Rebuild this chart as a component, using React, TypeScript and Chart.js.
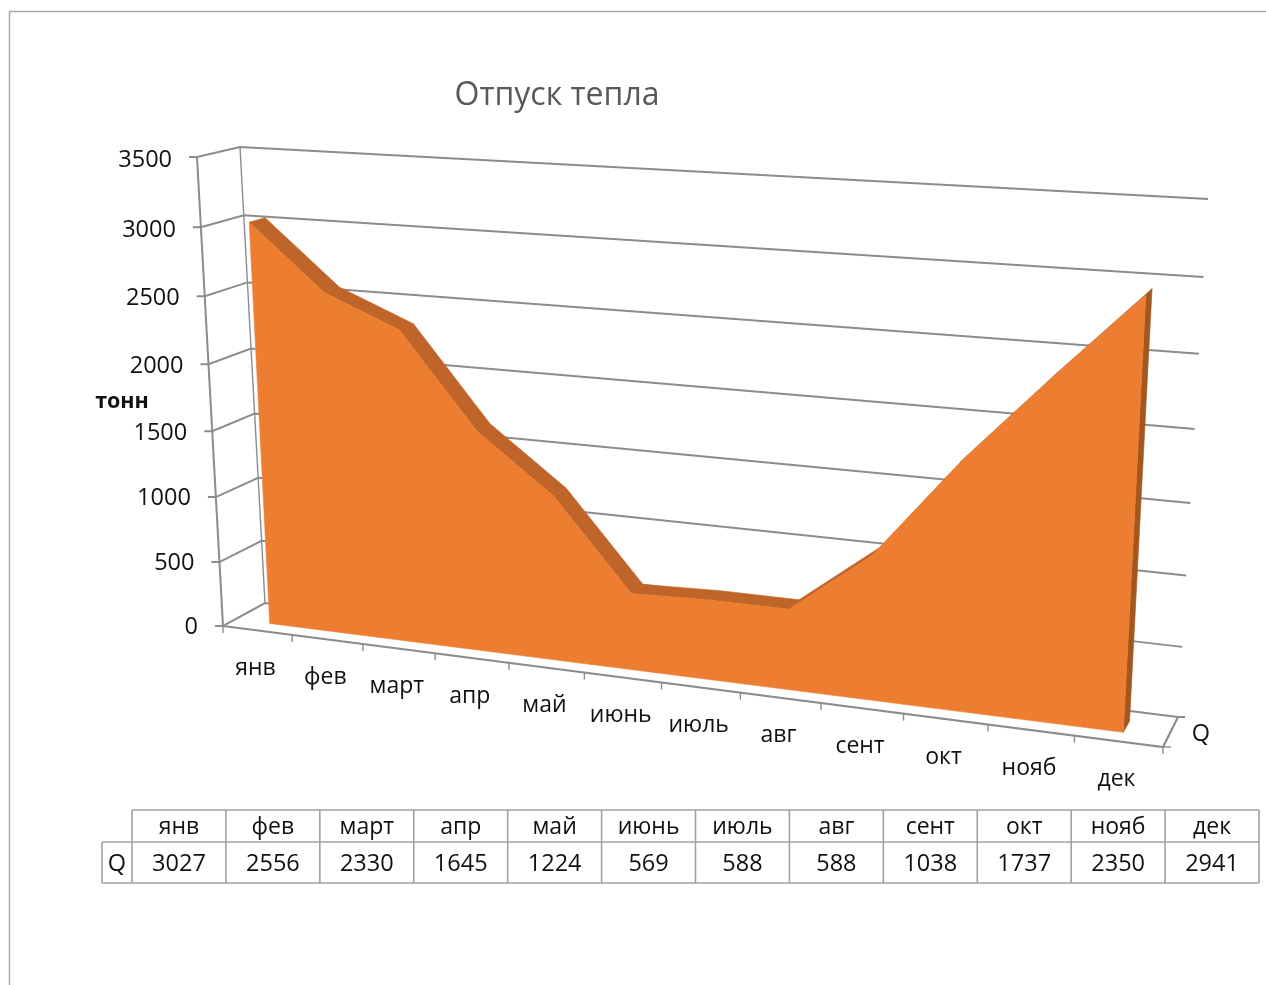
import React, { useEffect, useRef } from "react";
import { Chart, registerables } from "chart.js";

Chart.register(...registerables);

// Monthly heat output, tonnes
const months = ["янв", "фев", "март", "апр", "май", "июнь", "июль", "авг", "сент", "окт", "нояб", "дек"];
const heatQ = [3027, 2556, 2330, 1645, 1224, 569, 588, 588, 1038, 1737, 2350, 2941];
const seriesName = "Q";
const chartTitle = "Отпуск тепла";
const valueAxisTitle = "тонн";

const FONT = '"Open Sans", sans-serif';
const ORANGE = "#ED7D31";
const RIDGE = "#BF6529";
const SIDE = "#A3571F";
const GRID = "#8C8C8C";
const FRAME = "#A6A6A6";
const TABLE_LINE = "#A0A0A0";
const INK = "#111111";

type Pt = [number, number];

// Square-to-quad homography; corners are bottom-left, bottom-right, top-right, top-left.
function quadMap(q: Pt[]) {
  const [[x0, y0], [x1, y1], [x2, y2], [x3, y3]] = q;
  const dx1 = x1 - x2, dx2 = x3 - x2, dx3 = x0 - x1 + x2 - x3;
  const dy1 = y1 - y2, dy2 = y3 - y2, dy3 = y0 - y1 + y2 - y3;
  const den = dx1 * dy2 - dx2 * dy1;
  const g = (dx3 * dy2 - dx2 * dy3) / den;
  const h = (dx1 * dy3 - dx3 * dy1) / den;
  const a = x1 - x0 + g * x1, b = x3 - x0 + h * x3;
  const d = y1 - y0 + g * y1, e = y3 - y0 + h * y3;
  return (u: number, v: number): Pt => {
    const w = g * u + h * v + 1;
    return [(a * u + b * v + x0) / w, (d * u + e * v + y0) / w];
  };
}

// Front and back planes of the 3D box that holds the plot.
const frontPlane = quadMap([[223, 626], [1163, 747], [1193, 214], [197, 157]]);
const backPlane = quadMap([[265, 603], [1178, 717], [1208, 199], [240, 147]]);
const project = (u: number, v: number, depth: number): Pt => {
  const f = frontPlane(u, v);
  const b = backPlane(u, v);
  return [f[0] + (b[0] - f[0]) * depth, f[1] + (b[1] - f[1]) * depth];
};

const AREA_FRONT = 0.3;
const AREA_BACK = 0.68;

const poly = (ctx: CanvasRenderingContext2D, pts: Pt[], fill: string) => {
  ctx.beginPath();
  pts.forEach((p, i) => (i ? ctx.lineTo(p[0], p[1]) : ctx.moveTo(p[0], p[1])));
  ctx.closePath();
  ctx.fillStyle = fill;
  ctx.strokeStyle = fill;
  ctx.lineWidth = 0.6;
  ctx.fill();
  ctx.stroke();
};

const stroke = (ctx: CanvasRenderingContext2D, pts: Pt[], color: string, width: number) => {
  ctx.beginPath();
  pts.forEach((p, i) => (i ? ctx.lineTo(p[0], p[1]) : ctx.moveTo(p[0], p[1])));
  ctx.strokeStyle = color;
  ctx.lineWidth = width;
  ctx.stroke();
};

const text = (
  ctx: CanvasRenderingContext2D,
  s: string,
  x: number,
  y: number,
  font: string,
  color = INK,
  align: CanvasTextAlign = "center"
) => {
  ctx.font = font;
  ctx.fillStyle = color;
  ctx.textAlign = align;
  ctx.textBaseline = "middle";
  ctx.fillText(s, x, y);
};

// Renders the category/value scales of the chart as a perspective 3D area.
const perspectiveArea = {
  id: "perspectiveArea",
  beforeDatasetsDraw(chart: any) {
    const { ctx, scales } = chart;
    const xs = scales.x;
    const ys = scales.y;
    const labels: string[] = chart.data.labels;
    const values: number[] = chart.data.datasets[0].data;
    const uAt = (i: number) => (xs.getPixelForValue(i) - xs.left) / xs.width;
    const vAt = (val: number) => (ys.bottom - ys.getPixelForValue(val)) / ys.height;

    ctx.save();

    // Page frame
    stroke(ctx, [[9.5, 985], [9.5, 11.5], [1266, 11.5]], FRAME, 1.4);

    text(ctx, chartTitle, 557, 96, `32px ${FONT}`, "#595959");

    // Walls, gridlines and value ticks
    stroke(ctx, [project(0, 1, 1), project(0, 0, 1)], GRID, 1.4);
    ys.ticks.forEach((t: any) => {
      const v = vAt(t.value);
      const a = project(0, v, 0);
      stroke(ctx, [[a[0] - 8, a[1]], a, project(0, v, 1), project(1, v, 1)], GRID, 2);
      text(ctx, String(t.value), a[0] - 25, a[1] + 1 + 2 * v, `23.5px ${FONT}`, INK, "right");
    });
    stroke(ctx, [project(0, 0, 0), project(0, 1, 0)], GRID, 2);

    // Floor edges and category ticks
    const fr = project(1, 0, 0);
    const br = project(1, 0, 1);
    stroke(ctx, [project(0, 0, 0), fr, br, [br[0] + 7, br[1]]], GRID, 2.2);
    stroke(ctx, [fr, [fr[0] + 8, fr[1]]], GRID, 1.4);
    for (let i = 0; i <= labels.length; i++) {
      const p = project(uAt(i - 0.5), 0, 0);
      stroke(ctx, [p, [p[0], p[1] + 7]], GRID, 1.4);
    }
    labels.forEach((name, i) => {
      const p = project(uAt(i), 0, 0);
      text(ctx, name, p[0] - 2, p[1] + 38, `23px ${FONT}`);
    });
    text(ctx, seriesName, 1201, 734, `23.5px ${FONT}`);
    text(ctx, valueAxisTitle, 122, 402, `bold 21.5px ${FONT}`);

    // Upper surface of the ridge, then the end cap and the front face
    values.forEach((val, i) => {
      if (i === 0) return;
      const a = [uAt(i - 1), vAt(values[i - 1])];
      const b = [uAt(i), vAt(val)];
      poly(
        ctx,
        [project(a[0], a[1], AREA_FRONT), project(b[0], b[1], AREA_FRONT), project(b[0], b[1], AREA_BACK), project(a[0], a[1], AREA_BACK)],
        RIDGE
      );
    });
    const last = values.length - 1;
    const uL = uAt(last);
    const vL = vAt(values[last]);
    poly(
      ctx,
      [project(uL, 0, AREA_FRONT), project(uL, 0, AREA_BACK), project(uL, vL, AREA_BACK), project(uL, vL, AREA_FRONT)],
      SIDE
    );
    const face: Pt[] = values.map((val, i) => project(uAt(i), vAt(val), AREA_FRONT));
    face.push(project(uL, 0, AREA_FRONT), project(uAt(0), 0, AREA_FRONT));
    poly(ctx, face, ORANGE);

    // Data table below the plot
    const left = 132;
    const colW = (1259 - left) / labels.length;
    const top = 810, mid = 842, bottom = 883, labelLeft = 102;
    stroke(ctx, [[left, top], [1259, top]], TABLE_LINE, 1.4);
    stroke(ctx, [[labelLeft, mid], [1259, mid]], TABLE_LINE, 1.6);
    stroke(ctx, [[labelLeft, bottom], [1259, bottom]], TABLE_LINE, 1.6);
    stroke(ctx, [[labelLeft, mid], [labelLeft, bottom]], TABLE_LINE, 1.6);
    for (let i = 0; i <= labels.length; i++) {
      const x = left + i * colW;
      stroke(ctx, [[x, top], [x, bottom]], TABLE_LINE, 1.6);
    }
    labels.forEach((name, i) => {
      const cx = left + (i + 0.5) * colW;
      text(ctx, name, cx, 827, `23px ${FONT}`);
      text(ctx, String(values[i]), cx, 864, `23.5px ${FONT}`);
    });
    text(ctx, seriesName, 117, 864, `23.5px ${FONT}`);

    ctx.restore();
  },
};

export default function App() {
  const ref = useRef<HTMLCanvasElement>(null);
  useEffect(() => {
    const chart = new Chart(ref.current!, {
      type: "line",
      data: {
        labels: months,
        datasets: [
          { label: seriesName, data: heatQ, showLine: false, pointRadius: 0, borderColor: ORANGE, backgroundColor: ORANGE },
        ],
      },
      options: {
        responsive: false,
        animation: false,
        layout: { padding: 0 },
        plugins: { legend: { display: false }, title: { display: false }, tooltip: { enabled: false } },
        scales: {
          x: { type: "category", offset: true, display: false },
          y: { type: "linear", min: 0, max: 3500, ticks: { stepSize: 500 }, display: false },
        },
      },
      plugins: [perspectiveArea],
    });
    return () => chart.destroy();
  }, []);
  return (
    <div style={{ position: "absolute", left: 0, top: 0, width: 1266, height: 985, overflow: "hidden", background: "#fff" }}>
      <canvas ref={ref} width={1266} height={985} style={{ display: "block" }} />
    </div>
  );
}
